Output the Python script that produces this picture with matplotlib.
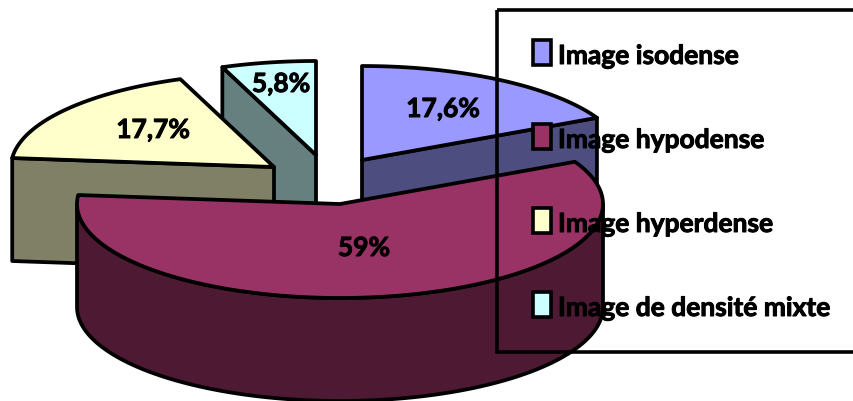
import numpy as np
import matplotlib
matplotlib.use('Agg')
import matplotlib.pyplot as plt
import matplotlib.patheffects as pe
from matplotlib.patches import Polygon, Rectangle

labels = ['Image isodense', 'Image hypodense', 'Image hyperdense', 'Image de densité mixte']
values = [17.6, 59.0, 17.7, 5.8]
value_labels = ['17,6%', '59%', '17,7%', '5,8%']
top_colors = ['#9999FF', '#993366', '#FFFFCC', '#CCFFFF']
side_colors = ['#4D4D80', '#4D1933', '#808066', '#668080']

# apex of each exploded slice, in pixels
apex = [(362, 160), (340, 204), (274, 167), (316, 155)]
label_pos = [(443, 109), (364, 248), (153, 130), (281, 84)]
rx, ry, depth = 263, 94, 103
EDGE = 2.7

fig = plt.figure(figsize=(8.54, 4.01), dpi=100)
ax = fig.add_axes([0, 0, 1, 1])
ax.set_xlim(0, 854)
ax.set_ylim(401, 0)
ax.axis('off')

ends = np.cumsum(values) / sum(values) * 2 * np.pi
starts = np.concatenate([[0], ends[:-1]])


def rim(i, t):
    return apex[i][0] + rx * np.sin(t), apex[i][1] - ry * np.cos(t)


def draw_slice(i):
    t0, t1 = starts[i], ends[i]
    cx, cy = apex[i]
    # flat cut faces, only those turned towards the viewer
    for t, visible in ((t0, np.sin(t0) < -0.01), (t1, np.sin(t1) > 0.01)):
        if visible:
            x, y = rim(i, t)
            ax.add_patch(Polygon([(cx, cy), (x, y), (x, y + depth), (cx, cy + depth)],
                                 fc=side_colors[i], ec='k', lw=EDGE, joinstyle='round'))
    # outer wall, front half of the ellipse only
    a, b = max(t0, np.pi / 2), min(t1, 3 * np.pi / 2)
    if b > a:
        t = np.linspace(a, b, 120)
        x, y = rim(i, t)
        pts = np.r_[np.c_[x, y], np.c_[x[::-1], y[::-1] + depth]]
        ax.add_patch(Polygon(pts, fc=side_colors[i], ec='k', lw=EDGE, joinstyle='round'))
    t = np.linspace(t0, t1, 160)
    x, y = rim(i, t)
    pts = np.r_[[(cx, cy)], np.c_[x, y]]
    ax.add_patch(Polygon(pts, fc=top_colors[i], ec='k', lw=EDGE, joinstyle='round'))


for i in [3, 2, 0, 1]:
    draw_slice(i)

font = {'family': ['Lato', 'Liberation Sans'], 'weight': 'bold', 'color': 'k',
        'path_effects': [pe.withStroke(linewidth=0.7, foreground='k')]}
for i, s in enumerate(value_labels):
    ax.text(label_pos[i][0], label_pos[i][1], s, fontsize=19, ha='center', va='center', **font)

# legend frame has no fill, the pie shows through it
ax.add_patch(Rectangle((497, 10), 400, 342, fc='none', ec='k', lw=2.6, clip_on=True))
for i, s in enumerate(labels):
    y = 53 + i * 84
    ax.add_patch(Rectangle((533, y - 13), 18, 25, fc=top_colors[i], ec='k', lw=2.6))
    ax.text(558, y + 3, s, fontsize=19, ha='left', va='center', **font)

fig.savefig('out.png', dpi=100)
